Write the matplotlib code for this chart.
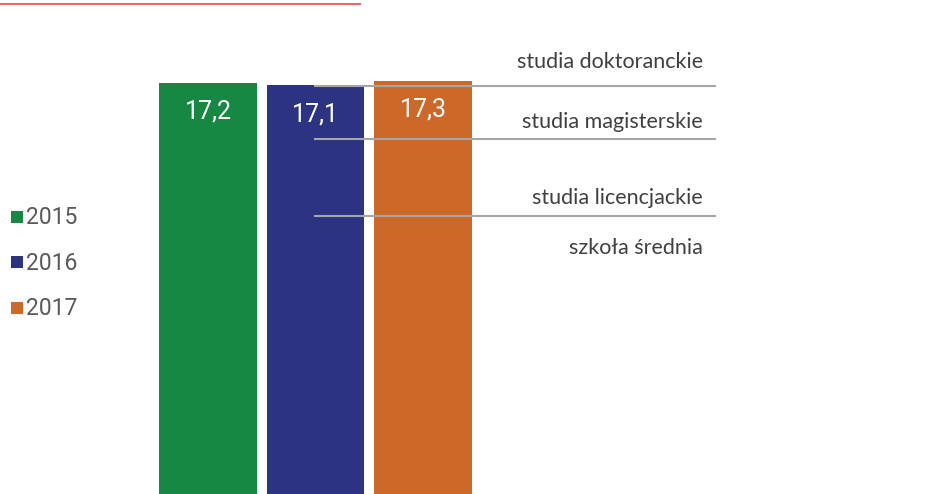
import matplotlib
matplotlib.use("Agg")
import matplotlib.pyplot as plt
from matplotlib.patches import Rectangle
from matplotlib.lines import Line2D

years = ["2015", "2016", "2017"]
values = [17.2, 17.1, 17.3]
labels = ["17,2", "17,1", "17,3"]
colors = ["#178843", "#2c3383", "#cd6828"]
levels = ["studia doktoranckie", "studia magisterskie", "studia licencjackie", "szkoła średnia"]

plt.rcParams['font.family'] = ['Roboto', 'DejaVu Sans']

W, H = 950, 494
fig = plt.figure(figsize=(9.5, 4.94), dpi=100)
ax = fig.add_axes([0, 0, 1, 1])
x = range(len(years))
bars = ax.bar(x, values, width=0.91, color=colors)
ax.set_xlim(-1.935, 6.902)
ax.set_ylim(0.075, 20.66)
ax.axis("off")

for b, lab in zip(bars, labels):
    ax.text(b.get_x() + b.get_width() / 2, b.get_height() - 1.2, lab,
            ha="center", va="center", color="white", fontsize=18)

# red rule at top
fig.add_artist(Line2D([0, 360 / W], [1 - 4.5 / H, 1 - 4.5 / H], color="#e8686a", lw=1.5))

# grey separators and level labels
for yy in [86, 139, 216]:
    fig.add_artist(Line2D([315 / W, 715 / W], [1 - yy / H, 1 - yy / H], color="#a6a6a6", lw=1.5))
for lab, yy in zip(levels, [62, 122, 198, 248]):
    fig.text(703 / W, 1 - yy / H, lab, ha="right", va="center", color="#404040",
             fontsize=15.5, family=['Lato', 'DejaVu Sans'])

# legend
for i, (yr, c) in enumerate(zip(years, colors)):
    yc = 216.5 + i * 45.5
    fig.add_artist(Rectangle((11 / W, 1 - (yc + 6) / H), 12 / W, 12 / H,
                             transform=fig.transFigure, color=c, lw=0))
    fig.text(26 / W, 1 - (yc + 1) / H, yr, ha="left", va="center", color="#595959", fontsize=16.5)

fig.savefig("out.png", dpi=100)
